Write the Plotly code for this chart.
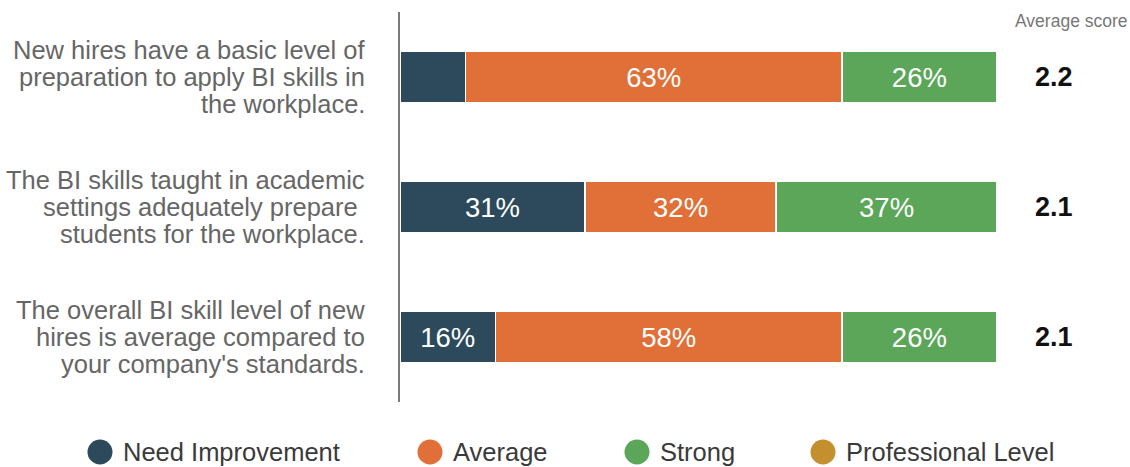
import plotly.graph_objects as go

# Survey statements (drawn top to bottom), one list of lines per statement
statements = [
    ["New hires have a basic level of", "preparation to apply BI skills in", "the workplace."],
    ["The BI skills taught in academic", "settings adequately prepare ", "students for the workplace."],
    ["The overall BI skill level of new", "hires is average compared to", "your company's standards."],
]
categories = ["Q1", "Q2", "Q3"]

# Share of respondents per rating (%)
need_improvement = [11, 31, 16]
average = [63, 32, 58]
strong = [26, 37, 26]
professional_level = [0, 0, 0]

average_score = [2.2, 2.1, 2.1]

series_names = ["Need Improvement", "Average", "Strong", "Professional Level"]
series_values = [need_improvement, average, strong, professional_level]
series_colors = ["#2C4A5B", "#E07038", "#5CA65A", "#C4902F"]

FONT = "Liberation Sans, Arial, sans-serif"

# plot-area geometry in pixels
W, H = 1130, 467
L, R, T, B = 400, 133, 12, 65
PW, PH = W - L - R, H - T - B


def px_x(px):
    return (px - L) / PW


def px_y(py):
    return (H - B - py) / PH


fig = go.Figure()
for name, vals, color in zip(series_names, series_values, series_colors):
    labels = [f"{v}%" if v >= 15 else "" for v in vals]
    fig.add_trace(go.Bar(
        y=categories, x=vals, orientation="h", name=name,
        marker=dict(color=color, line=dict(color="white", width=1.5)),
        text=labels, textposition="inside", insidetextanchor="middle",
        textangle=0, texttemplate="%{text}",
        insidetextfont=dict(family=FONT, size=27.5, color="white"),
        showlegend=False, hoverinfo="skip",
    ))

annotations = []

# statement labels, right-aligned to the left of the axis
for cat, lines in zip(categories, statements):
    n = len(lines)
    for i, line in enumerate(lines):
        annotations.append(dict(
            x=0, xref="paper", y=cat, yref="y", xanchor="right", yanchor="middle",
            xshift=-33, yshift=((n - 1) / 2 - i) * 27, showarrow=False,
            text=line, font=dict(family=FONT, size=25.5, color="#666666"),
        ))

# average score column
annotations.append(dict(
    x=px_x(1071), xref="paper", y=px_y(21), yref="paper", xanchor="center", yanchor="middle",
    showarrow=False, text="Average score", font=dict(family=FONT, size=17.5, color="#777777"),
))
for cat, s in zip(categories, average_score):
    annotations.append(dict(
        x=px_x(1054), xref="paper", y=cat, yref="y", xanchor="center", yanchor="middle",
        showarrow=False, text=f"<b>{s:.1f}</b>", font=dict(family=FONT, size=27, color="#111111"),
    ))

# legend row along the bottom
shapes = []
legend_x = [100, 430, 637, 823]
legend_y = 452
for cx, name, color in zip(legend_x, series_names, series_colors):
    shapes.append(dict(
        type="circle", xref="paper", yref="paper",
        xsizemode="pixel", ysizemode="pixel",
        xanchor=px_x(cx), yanchor=px_y(legend_y),
        x0=-12.5, x1=12.5, y0=-12.5, y1=12.5,
        fillcolor=color, line=dict(width=0),
    ))
    annotations.append(dict(
        x=px_x(cx + 21), xref="paper", y=px_y(legend_y), yref="paper",
        xanchor="left", yanchor="middle", showarrow=False,
        text=name, font=dict(family=FONT, size=25.5, color="#3a3a3a"),
    ))

fig.update_layout(
    barmode="stack", bargap=0.6,
    width=W, height=H, margin=dict(l=L, r=R, t=T, b=B),
    paper_bgcolor="white", plot_bgcolor="white",
    xaxis=dict(range=[0, 100], visible=False, fixedrange=True),
    yaxis=dict(autorange="reversed", showticklabels=False, ticks="",
               showgrid=False, zeroline=False,
               showline=True, linecolor="#7a7a7a", linewidth=2),
    annotations=annotations, shapes=shapes,
    font=dict(family=FONT),
)

fig.write_html("out.html")
